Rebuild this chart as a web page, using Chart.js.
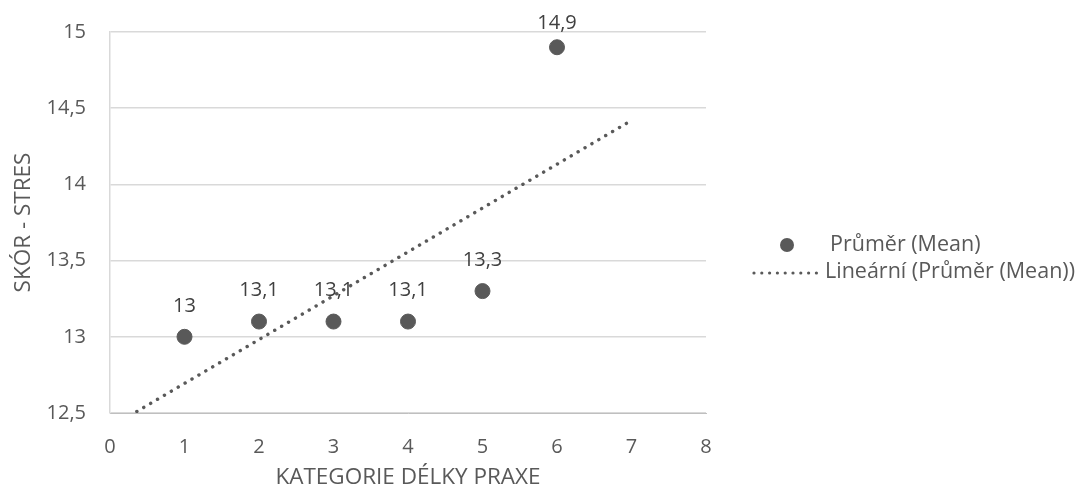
<!DOCTYPE html>
<html>
<head>
<meta charset="utf-8">
<script src="https://cdn.jsdelivr.net/npm/chart.js@4"></script>
<style>
html,body{margin:0;padding:0;background:#fff;}
#wrap{width:1081px;height:495px;position:relative;}
</style>
</head>
<body>
<div id="wrap"><canvas id="c" width="1081" height="495"></canvas></div>
<script>
const categories = [1, 2, 3, 4, 5, 6];
const meanValues = [13, 13.1, 13.1, 13.1, 13.3, 14.9];
const trendX = [0.36, 7];
const trendY = [12.51, 14.42];
const seriesLabel = 'Průměr (Mean)';
const trendLabel = 'Lineární (Průměr (Mean))';
const xTitle = 'KATEGORIE DÉLKY PRAXE';
const yTitle = 'SKÓR - STRES';

const FONT = '"Open Sans", "Liberation Sans", sans-serif';
const FS_TICK = 20;
const FS_LABEL = 20;
const FS_LEGEND = 21.5;
const FS_TITLE = 22.5;
const TXT = '#595959';
const fmt = v => String(Math.round(v * 10) / 10).replace('.', ',');

const labelPlugin = {
  id: 'labels',
  afterDatasetsDraw(chart) {
    const ctx = chart.ctx;
    const meta = chart.getDatasetMeta(0);
    ctx.save();
    ctx.font = FS_LABEL + 'px ' + FONT;
    ctx.fillStyle = '#404040';
    ctx.textAlign = 'center';
    ctx.textBaseline = 'middle';
    meta.data.forEach((pt, i) => {
      ctx.fillText(fmt(meanValues[i]), pt.x, Math.max(pt.y - 31, 23));
    });
    // legend
    const ca = chart.chartArea;
    const lx = ca.right + 81, ly1 = 245, ly2 = 272;
    ctx.font = FS_LEGEND + 'px ' + FONT;
    ctx.fillStyle = '#595959';
    ctx.beginPath();
    ctx.arc(lx, ly1, 7, 0, Math.PI * 2);
    ctx.fill();
    ctx.textAlign = 'left';
    ctx.fillStyle = TXT;
    ctx.fillText(seriesLabel, ca.right + 124, ly1);
    ctx.fillStyle = '#595959';
    for (let k = 0; k < 9; k++) {
      ctx.beginPath();
      ctx.arc(ca.right + 48 + k * 7.8, ly2 + 1, 1.6, 0, Math.PI * 2);
      ctx.fill();
    }
    ctx.fillStyle = TXT;
    ctx.fillText(trendLabel, ca.right + 119, ly2);
    ctx.restore();
  }
};

new Chart(document.getElementById('c'), {
  type: 'scatter',
  data: {
    datasets: [
      {
        label: seriesLabel,
        data: categories.map((x, i) => ({x: x, y: meanValues[i]})),
        backgroundColor: '#595959',
        borderColor: '#595959',
        pointRadius: 7.5,
        pointHoverRadius: 7.5,
        order: 1
      },
      {
        label: trendLabel,
        type: 'line',
        data: trendX.map((x, i) => ({x: x, y: trendY[i]})),
        borderColor: '#595959',
        borderWidth: 3.4,
        borderDash: [0.1, 7.9],
        borderCapStyle: 'round',
        pointRadius: 0,
        fill: false,
        order: 2
      }
    ]
  },
  options: {
    responsive: false,
    animation: false,
    layout: {padding: {top: 32, right: 375, left: 0, bottom: 0}},
    plugins: {legend: {display: false}, tooltip: {enabled: false}},
    scales: {
      x: {
        type: 'linear', min: 0, max: 8,
        ticks: {stepSize: 1, color: TXT, font: {family: FONT, size: FS_TICK}, padding: 22},
        grid: {display: false, drawTicks: false},
        border: {color: '#bfbfbf', width: 1},
        title: {display: true, text: xTitle, color: TXT, font: {family: FONT, size: FS_TITLE}, padding: {top: 2}},
        afterFit(s) { s.height = 82; s.paddingLeft = 0; s.paddingRight = 0; }
      },
      y: {
        min: 12.5, max: 15,
        ticks: {stepSize: 0.5, color: TXT, font: {family: FONT, size: FS_TICK}, padding: 24, callback: v => fmt(v)},
        grid: {color: '#d9d9d9', lineWidth: 1.5, drawTicks: false},
        border: {color: '#d9d9d9', width: 1.5},
        title: {display: true, text: yTitle, color: TXT, font: {family: FONT, size: FS_TITLE}, padding: {top: 10, bottom: 0}},
        afterFit(s) { s.width = 110; s.paddingTop = 0; s.paddingBottom = 0; }
      }
    }
  },
  plugins: [labelPlugin]
});
</script>
</body>
</html>
